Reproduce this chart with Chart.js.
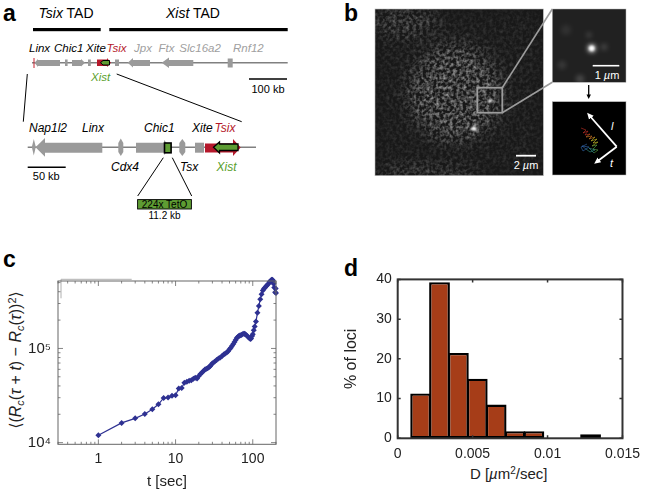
<!DOCTYPE html>
<html>
<head>
<meta charset="utf-8">
<script src="https://cdn.jsdelivr.net/npm/chart.js@4/dist/chart.umd.min.js"></script>
<style>
  html, body { margin: 0; background: #fff; }
  #figure { position: relative; width: 647px; height: 490px; overflow: hidden; font-family: "Liberation Sans", Arial, sans-serif; }
  #figure svg { position: absolute; left: 0; top: 0; }
  #figure text { font-family: "Liberation Sans", "DejaVu Sans", sans-serif; }
  canvas { position: absolute; }
  #msdCanvas { left: 0; top: 265px; }
  #histCanvas { left: 330px; top: 265px; }
</style>
</head>
<body>
<div id="figure">
<svg width="647" height="490" viewBox="0 0 647 490">
  <defs>
    <filter id="mottle" x="-40%" y="-40%" width="180%" height="180%" color-interpolation-filters="sRGB">
      <feGaussianBlur in="SourceAlpha" stdDeviation="9" result="mask"/>
      <feTurbulence type="fractalNoise" baseFrequency="0.3" numOctaves="2" seed="4" result="n"/>
      <feColorMatrix in="n" type="matrix" values="0 0 0 0 1  0 0 0 0 1  0 0 0 0 1  1.1 0 0 0 -0.4"/>
      <feGaussianBlur stdDeviation="0.7" result="w"/>
      <feComposite in="w" in2="mask" operator="in"/>
    </filter>
    <filter id="glow1" x="-150%" y="-150%" width="400%" height="400%"><feGaussianBlur stdDeviation="0.9"/></filter>
    <filter id="glow2" x="-200%" y="-200%" width="500%" height="500%"><feGaussianBlur stdDeviation="2.4"/></filter>
    <marker id="wh" markerWidth="4" markerHeight="4" refX="2" refY="2" orient="auto"><path d="M0,0.3 L3.6,2 L0,3.7 Z" fill="#fff"/></marker>
    <marker id="bk" markerWidth="4" markerHeight="4" refX="2" refY="2" orient="auto"><path d="M0,0.3 L3.6,2 L0,3.7 Z" fill="#000"/></marker>
    <clipPath id="clipMain"><rect x="375" y="9" width="168.3" height="166.7"/></clipPath>
    <clipPath id="clipTop"><rect x="552.3" y="9" width="73.7" height="73.3"/></clipPath>
  </defs>

  <!-- panel letters -->
  <g font-weight="700" font-size="23" fill="#000">
    <text x="3" y="21">a</text>
    <text x="344" y="21">b</text>
    <text x="3" y="267">c</text>
    <text x="344" y="276">d</text>
  </g>

  <!-- panel a, overview -->
  <text x="66" y="18" text-anchor="middle" font-size="14"><tspan font-style="italic">Tsix</tspan> TAD</text>
  <text x="193" y="18" text-anchor="middle" font-size="14"><tspan font-style="italic">Xist</tspan> TAD</text>
  <rect x="33" y="28" width="67.7" height="3.2" fill="#000"/>
  <rect x="109.3" y="28" width="178.4" height="3.2" fill="#000"/>
  <g font-size="11.5" font-style="italic">
    <text x="29" y="51.5" fill="#000">Linx</text>
    <text x="54" y="51.5" fill="#000">Chic1</text>
    <text x="86" y="51.5" fill="#000">Xite</text>
    <text x="106.5" y="51.5" fill="#b5182b">Tsix</text>
    <text x="134" y="51.5" fill="#a0a0a0">Jpx</text>
    <text x="158.5" y="51.5" fill="#a0a0a0">Ftx</text>
    <text x="179.3" y="51.5" fill="#a0a0a0">Slc16a2</text>
    <text x="233" y="51.5" fill="#a0a0a0">Rnf12</text>
    <text x="91" y="81" fill="#5aa02c">Xist</text>
  </g>
  <line x1="32" y1="62.7" x2="287.7" y2="62.7" stroke="#808080" stroke-width="1.6"/>
  <line x1="34" y1="58" x2="34" y2="68" stroke="#c8202f" stroke-width="1"/>
  <g fill="#9a9a9a">
    <path d="M34.5,62.7 L38,59 L38,60 L60,60 L60,66 L38,66 L38,67 Z"/>
    <rect x="65" y="59.5" width="2.6" height="6.5"/>
    <path d="M72,60 L81,60 L81,59 L85,62.7 L81,66.5 L81,66 L72,66 Z"/>
    <rect x="88" y="59.5" width="2.8" height="6.5"/>
    <rect x="115" y="59.5" width="4" height="6.5"/>
    <path d="M127.7,62.7 L133,58 L133,60 L150,60 L150,66 L133,66 L133,67.5 Z"/>
    <path d="M161.7,62.7 L169,57.5 L169,60 L193.3,60 L193.3,66 L169,66 L169,68 Z"/>
    <rect x="227.7" y="58.5" width="5" height="9"/>
  </g>
  <path d="M97,59.5 L107,59.5 L107,58 L111,62.7 L107,67 L107,66 L97,66 Z" fill="#b5182b"/>
  <path d="M100.5,62.7 L103,60.5 L109.5,60.5 L109.5,65 L103,65 Z" fill="#5e9c33" stroke="#000" stroke-width="1"/>
  <line x1="249" y1="79" x2="287" y2="79" stroke="#000" stroke-width="1.6"/>
  <text x="268" y="92.5" text-anchor="middle" font-size="11">100 kb</text>
  <line x1="27.3" y1="74" x2="23.3" y2="121.7" stroke="#000" stroke-width="1"/>
  <line x1="116.7" y1="74" x2="241.7" y2="121.7" stroke="#000" stroke-width="1"/>

  <!-- panel a, zoomed region -->
  <g font-size="12" font-style="italic">
    <text x="29" y="131.5" fill="#000">Nap1l2</text>
    <text x="82" y="131.5" fill="#000">Linx</text>
    <text x="144" y="131.5" fill="#000">Chic1</text>
    <text x="192" y="131.5" fill="#000">Xite</text>
    <text x="214.5" y="131.5" fill="#b5182b">Tsix</text>
    <text x="111" y="171.3" fill="#000">Cdx4</text>
    <text x="180" y="171.3" fill="#000">Tsx</text>
    <text x="216.5" y="171.3" fill="#5aa02c">Xist</text>
  </g>
  <line x1="27.7" y1="147.3" x2="256" y2="147.3" stroke="#808080" stroke-width="1.6"/>
  <g fill="#9a9a9a">
    <path d="M33.8,139 L35.8,147 L33.8,155.5 L31.8,147 Z"/>
    <path d="M35.5,147.3 L45,138 L45,142.7 L102.3,142.7 L102.3,152.7 L45,152.7 L45,156.7 Z"/>
    <path d="M120.8,138.5 L123.3,143 L123.3,152 L120.8,156 L118.3,152 L118.3,143 Z"/>
    <path d="M136,142.7 L164,142.7 L164,140 L171,147.5 L164,155 L164,152.7 L136,152.7 Z"/>
    <path d="M182.3,139 L185.3,143 L185.3,152 L182.3,156 L179.3,152 L179.3,143 Z"/>
    <rect x="195" y="142.7" width="9" height="10"/>
  </g>
  <rect x="164.5" y="143" width="6.6" height="9.8" fill="#5e9c33" stroke="#000" stroke-width="1.6"/>
  <path d="M205,143.5 L233,143.5 L233,139 L240.7,147.5 L233,156 L233,152.5 L205,152.5 Z" fill="#b5182b"/>
  <path d="M213.5,147.3 L219.5,142 L219.5,144 L238,144 L238,150.5 L219.5,150.5 L219.5,153 Z" fill="#5e9c33" stroke="#000" stroke-width="1.3"/>
  <line x1="27.7" y1="167.3" x2="65.7" y2="167.3" stroke="#000" stroke-width="1.6"/>
  <text x="46.3" y="180" text-anchor="middle" font-size="11">50 kb</text>
  <line x1="163.3" y1="157.7" x2="137.7" y2="196" stroke="#000" stroke-width="1"/>
  <line x1="172.3" y1="157.7" x2="191.7" y2="196" stroke="#000" stroke-width="1"/>
  <rect x="137.6" y="199.6" width="53.8" height="9.4" fill="#5e9c33" stroke="#000" stroke-width="0.9"/>
  <text x="164.5" y="207.8" text-anchor="middle" font-size="10">224x TetO</text>
  <text x="164.5" y="219" text-anchor="middle" font-size="10">11.2 kb</text>

  <!-- panel b, micrographs -->
  <rect x="375" y="9" width="168.3" height="166.7" fill="#181818" stroke="#b8b8b8" stroke-width="0.6"/>
  <g clip-path="url(#clipMain)">
    <rect x="375" y="9" width="168.3" height="166.7" fill="#fff" opacity="0.22" filter="url(#mottle)"/>
    <ellipse cx="405" cy="22" rx="36" ry="16" fill="#fff" opacity="0.5" filter="url(#mottle)"/>
    <ellipse cx="425" cy="178" rx="55" ry="12" fill="#fff" opacity="0.6" filter="url(#mottle)"/>
    <ellipse cx="455" cy="93" rx="46" ry="48" fill="#fff" opacity="0.9" filter="url(#mottle)"/>
    <circle cx="490" cy="101" r="1.8" fill="#fff" filter="url(#glow1)"/>
    <ellipse cx="474" cy="128.7" rx="2.8" ry="2.1" fill="#fff" filter="url(#glow1)"/>
  </g>
  <rect x="477.3" y="87.7" width="25" height="25" fill="none" stroke="#9c9c9c" stroke-width="1.8"/>
  <line x1="502.3" y1="87.7" x2="552.3" y2="9" stroke="#9c9c9c" stroke-width="1.6"/>
  <line x1="502.3" y1="112.7" x2="552.3" y2="82.3" stroke="#9c9c9c" stroke-width="1.6"/>
  <line x1="516" y1="155.7" x2="536" y2="155.7" stroke="#fff" stroke-width="1.8"/>
  <text x="526" y="169" text-anchor="middle" font-size="11" fill="#fff">2 <tspan font-style="italic">µ</tspan>m</text>

  <rect x="552.3" y="9" width="73.7" height="73.3" fill="#212121" stroke="#b8b8b8" stroke-width="0.5"/>
  <g clip-path="url(#clipTop)">
    <circle cx="562" cy="65" r="4" fill="#fff" opacity="0.12" filter="url(#glow2)"/>
    <circle cx="580" cy="79" r="4" fill="#fff" opacity="0.2" filter="url(#glow2)"/>
    <circle cx="604" cy="47" r="3" fill="#fff" opacity="0.2" filter="url(#glow2)"/>
    <circle cx="589" cy="35" r="2" fill="#fff" opacity="0.3" filter="url(#glow2)"/>
    <circle cx="566" cy="30" r="5" fill="#fff" opacity="0.08" filter="url(#glow2)"/>
    <circle cx="591.7" cy="48.3" r="3.6" fill="#fff" filter="url(#glow2)"/>
    <circle cx="591.7" cy="48.3" r="2.6" fill="#fff" filter="url(#glow1)"/>
  </g>
  <line x1="592.7" y1="65.7" x2="619.3" y2="65.7" stroke="#fff" stroke-width="1.6"/>
  <text x="607" y="78.5" text-anchor="middle" font-size="11" fill="#fff">1 <tspan font-style="italic">µ</tspan>m</text>
  <line x1="588.7" y1="85" x2="588.7" y2="97" stroke="#000" stroke-width="1.3" marker-end="url(#bk)"/>

  <rect x="552.3" y="101.7" width="73.7" height="73.3" fill="#000" stroke="#b8b8b8" stroke-width="0.5"/>
  <g fill="none" stroke-width="0.55">
    <polyline points="581,128 586,130 583,133 588,131 585,135 590,134" stroke="#d9352a"/>
    <polyline points="590,134 586,137 592,136 589,139 595,137" stroke="#e8862a"/>
    <polyline points="595,137 591,141 597,139 593,143 598,142 592,146" stroke="#d8d02c"/>
    <polyline points="592,146 597,145 593,149 598,150 594,153" stroke="#63b548"/>
    <polyline points="594,153 589,148 595,150 590,152 586,149" stroke="#3aa89a"/>
    <polyline points="586,149 582,146 589,147 583,151 581,147 587,144" stroke="#3773c2"/>
  </g>
  <g stroke="#fff" stroke-width="1.8" fill="none">
    <line x1="616.7" y1="146.7" x2="589" y2="115" marker-end="url(#wh)"/>
    <line x1="616.7" y1="146.7" x2="596.5" y2="162" marker-end="url(#wh)"/>
  </g>
  <text x="611" y="130" font-size="11" font-style="italic" fill="#fff">l</text>
  <text x="610" y="167" font-size="11" font-style="italic" fill="#fff">t</text>

  <!-- chart text that needs mixed styles -->
  <text transform="translate(21,360) rotate(-90)" text-anchor="middle" font-size="16" fill="#222">⟨(<tspan font-style="italic">R</tspan><tspan font-style="italic" font-size="11" dy="3">c</tspan><tspan dy="-3">(</tspan><tspan font-style="italic">τ</tspan> + <tspan font-style="italic">t</tspan>) − <tspan font-style="italic">R</tspan><tspan font-style="italic" font-size="11" dy="3">c</tspan><tspan dy="-3">(</tspan><tspan font-style="italic">τ</tspan>))<tspan font-size="11" dy="-5">2</tspan><tspan dy="5">⟩</tspan></text>
  <text x="508.7" y="479" text-anchor="middle" font-size="15" fill="#222">D [<tspan font-style="italic">µ</tspan>m<tspan font-size="10" dy="-5">2</tspan><tspan dy="5">/sec]</tspan></text>
  <polyline points="61,298.3 61,279.3 131.7,279.3" fill="none" stroke="#b0b0b0" stroke-width="1"/>
</svg>
<canvas id="msdCanvas" width="290" height="226"></canvas>
<canvas id="histCanvas" width="317" height="225"></canvas>
</div>

<script>
// panel c: displacement curve
const lagTimes = [1, 2, 3, 4, 5, 6, 7, 8, 9, 10, 11, 12, 13, 14, 15, 16, 17, 18, 19, 20,
    21, 22, 23, 24, 25, 26, 27, 28, 29, 30, 32, 34, 36, 38, 40, 42, 44, 46, 48, 50,
    52, 54, 56, 58, 60, 62, 64, 66, 68, 70, 72, 75, 78, 80, 83, 86, 90, 93, 95, 98,
    100, 103, 106, 110, 115, 120, 125, 130, 135, 140, 145, 150, 155, 160, 165, 170, 175, 180, 183, 186,
    190, 195, 198, 200];
const displacement = [12000, 16200, 18100, 20100, 22600, 25500, 29800, 30200, 31400, 31800, 37500, 38000,
    43250, 44300, 45350, 45900, 47600, 48700, 48100, 51100,
    53600, 55500, 57500, 59600, 61000, 61800, 63300, 64800, 67100, 69500, 72100, 75600, 78300, 80200, 83100, 86100, 88200, 90300, 93600, 98100,
    101700, 106600, 111800, 117300, 122900, 128900, 132000, 135200, 136800, 138400, 140100, 143400, 143400, 141700, 138400, 133600, 128900, 125900, 127400, 135200,
    141700, 155900, 171400, 193100, 238900, 282200, 333200, 375200, 412600, 432600, 443000, 459100, 475700, 487100, 510800, 516900, 535800, 535800, 523000, 487100,
    443000, 394000, 432600, 387000];
const lagTicks = [0.3, 0.4, 0.5, 0.6, 0.7, 0.8, 0.9, 1, 2, 3, 4, 5, 6, 7, 8, 9, 10,
    20, 30, 40, 50, 60, 70, 80, 90, 100, 200];
const lagLabels = { 1: '1', 10: '10', 100: '100' };
const dispTicks = [10000, 20000, 30000, 40000, 50000, 60000, 70000, 80000, 90000,
    100000, 200000, 300000, 400000, 500000];
const dispLabels = { 10000: '10⁴', 100000: '10⁵' };

// panel d: histogram
const binCenters = [0.00153, 0.00279, 0.00405, 0.00531, 0.00657, 0.00783, 0.00909, 0.01035, 0.01161, 0.01287];
const lociPercent = [11.3, 39.3, 21.5, 15, 8.5, 1.8, 1.8, 0, 0, 1];
const diffTicks = [0, 0.005, 0.01, 0.015];
const diffLabels = ['0', '0.005', '0.01', '0.015'];
const percentTicks = [0, 10, 20, 30, 40];

Chart.defaults.font.family = '"Liberation Sans", "DejaVu Sans", sans-serif';
Chart.defaults.color = '#222';
Chart.defaults.animation = false;

// frame round the plot, with ticks pointing inwards on all four sides
const frameTicks = {
    id: 'frameTicks',
    afterDatasetsDraw(chart, args, opts) {
        const { ctx, chartArea: a, scales } = chart;
        ctx.save();
        ctx.strokeStyle = opts.color;
        ctx.lineWidth = opts.tickWidth;
        ctx.beginPath();
        for (const t of scales.x.ticks) {
            const x = scales.x.getPixelForValue(t.value);
            const len = t.label ? opts.major : opts.minor;
            ctx.moveTo(x, a.bottom); ctx.lineTo(x, a.bottom - len);
            ctx.moveTo(x, a.top);    ctx.lineTo(x, a.top + len);
        }
        for (const t of scales.y.ticks) {
            const y = scales.y.getPixelForValue(t.value);
            const len = t.label ? opts.major : opts.minor;
            ctx.moveTo(a.left, y);  ctx.lineTo(a.left + len, y);
            ctx.moveTo(a.right, y); ctx.lineTo(a.right - len, y);
        }
        ctx.stroke();
        ctx.lineWidth = opts.width;
        ctx.strokeRect(a.left, a.top, a.right - a.left, a.bottom - a.top);
        ctx.restore();
    }
};

new Chart(document.getElementById('msdCanvas'), {
    type: 'line',
    data: {
        datasets: [{
            data: lagTimes.map((t, i) => ({ x: t, y: displacement[i] })),
            borderColor: '#2e3192',
            backgroundColor: '#2e3192',
            borderWidth: 1.2,
            pointStyle: 'rectRot',
            pointRadius: 3,
            pointBorderWidth: 0,
            clip: false
        }]
    },
    plugins: [frameTicks],
    options: {
        responsive: false,
        layout: { padding: { top: 11, right: 14, bottom: 0, left: 0 } },
        plugins: {
            legend: { display: false },
            tooltip: { enabled: false },
            frameTicks: { color: '#666', width: 1, tickWidth: 0.8, major: 5, minor: 2.5 }
        },
        scales: {
            x: {
                type: 'logarithmic', min: 0.3, max: 200,
                afterBuildTicks: s => { s.ticks = lagTicks.map(value => ({ value })); },
                afterFit: s => { s.height = 46.7; },
                grid: { display: false, drawTicks: false },
                border: { display: false },
                ticks: {
                    autoSkip: false, maxRotation: 0, padding: 6, font: { size: 14 },
                    callback: v => lagLabels[v] ?? ''
                },
                title: { display: true, text: 't [sec]', font: { size: 15 }, padding: 0 }
            },
            y: {
                type: 'logarithmic', min: 9600, max: 520000,
                afterBuildTicks: s => { s.ticks = dispTicks.map(value => ({ value })); },
                afterFit: s => { s.width = 58; },
                grid: { display: false, drawTicks: false },
                border: { display: false },
                ticks: {
                    autoSkip: false, padding: 7, font: { size: 15 },
                    callback: v => dispLabels[v] ?? ''
                }
            }
        }
    }
});

new Chart(document.getElementById('histCanvas'), {
    type: 'bar',
    data: {
        datasets: [{
            data: binCenters.map((x, i) => ({ x, y: lociPercent[i] })),
            backgroundColor: '#a63d18',
            borderColor: '#000',
            borderWidth: 2.4,
            borderSkipped: false,
            barPercentage: 1.1,
            categoryPercentage: 1
        }]
    },
    plugins: [frameTicks],
    options: {
        responsive: false,
        layout: { padding: { top: 11.7, right: 20.3, bottom: 0, left: 0 } },
        plugins: {
            legend: { display: false },
            tooltip: { enabled: false },
            frameTicks: { color: '#333', width: 2, tickWidth: 1.5, major: 3, minor: 2 }
        },
        scales: {
            x: {
                type: 'linear', min: 0, max: 0.015, offset: false,
                afterBuildTicks: s => { s.ticks = diffTicks.map(value => ({ value })); },
                afterFit: s => { s.height = 51.7; },
                grid: { display: false, drawTicks: false },
                border: { display: false },
                ticks: {
                    autoSkip: false, maxRotation: 0, padding: 7, font: { size: 14 },
                    callback: v => diffLabels[diffTicks.indexOf(v)]
                }
            },
            y: {
                min: 0, max: 40,
                afterBuildTicks: s => { s.ticks = percentTicks.map(value => ({ value })); },
                afterFit: s => { s.width = 67.7; },
                grid: { display: false, drawTicks: false },
                border: { display: false },
                ticks: { autoSkip: false, padding: 6, font: { size: 14 } },
                title: { display: true, text: '% of loci', font: { size: 16 }, padding: { top: 12, bottom: 0 } }
            }
        }
    }
});
</script>
</body>
</html>
